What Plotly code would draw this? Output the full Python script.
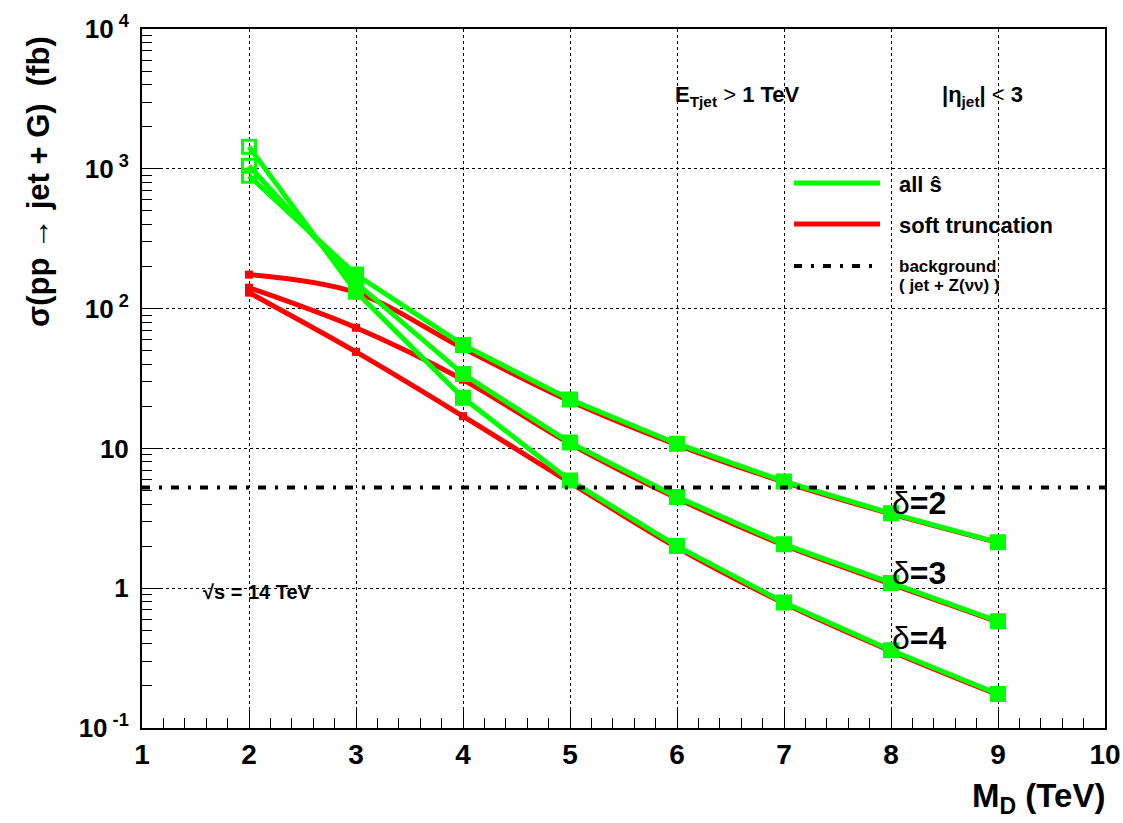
import math
import plotly.graph_objects as go

# ---------------- data ----------------
md = [2, 3, 4, 5, 6, 7, 8, 9]

all_s_d2 = [891, 175, 55, 22.4, 10.8, 5.8, 3.43, 2.13]
all_s_d3 = [1050, 153, 34, 11.0, 4.5, 2.06, 1.09, 0.58]
all_s_d4 = [1436, 132, 23, 5.9, 2.0, 0.79, 0.36, 0.175]

soft_d2 = [175, 130, 52, 21.8, 10.6, 5.75, 3.4, 2.12]
soft_d3 = [141, 73, 31, 10.8, 4.4, 2.03, 1.07, 0.575]
soft_d4 = [130, 49, 17, 5.7, 1.95, 0.78, 0.355, 0.173]

bg_x = [1, 10]
bg_y = [5.26, 5.26]

delta_labels = ["δ=2", "δ=3", "δ=4"]
delta_label_x = 7.99
delta_label_y = [4.05, 1.28, 0.44]

x_ticks = [1, 2, 3, 4, 5, 6, 7, 8, 9, 10]
y_ticks = [0.1, 1, 10, 100, 1000, 10000]
y_tick_text = ["10<sup> -1</sup>", "1", "10", "10<sup> 2</sup>", "10<sup> 3</sup>", "10<sup> 4</sup>"]

GREEN = "#00ff00"
RED = "#ff0000"
FONT = "Liberation Sans, Arial, sans-serif"
NARROW = "Liberation Sans Narrow, Liberation Sans, Arial, sans-serif"

fig = go.Figure()

# soft truncation (red, smooth curves)
for ys in (soft_d2, soft_d3, soft_d4):
    fig.add_trace(go.Scatter(
        x=md, y=ys, mode="lines+markers",
        line=dict(color=RED, width=5, shape="spline", smoothing=1.0),
        marker=dict(symbol="square", size=8, color=RED),
        showlegend=False, hoverinfo="skip"))

# all s-hat (green)
sym = ["square-open"] + ["square"] * 7
for ys in (all_s_d2, all_s_d3, all_s_d4):
    fig.add_trace(go.Scatter(
        x=md, y=ys, mode="lines+markers",
        line=dict(color=GREEN, width=5),
        marker=dict(symbol=sym, size=13, color=GREEN, line=dict(color=GREEN, width=3)),
        showlegend=False, hoverinfo="skip"))

# background
fig.add_trace(go.Scatter(
    x=bg_x, y=bg_y, mode="lines",
    line=dict(color="black", width=4, dash="8px,9px,3px,9px"),
    showlegend=False, hoverinfo="skip"))

# delta labels
for lab, yv in zip(delta_labels, delta_label_y):
    fig.add_annotation(x=delta_label_x, y=math.log10(yv), yref="y", xref="x",
                       text="<span style='font-weight:normal'>δ</span><b>=" + lab[-1] + "</b>",
                       showarrow=False, xanchor="left", yanchor="middle",
                       font=dict(family=FONT, size=32, color="black"))

# plot-area pixel frame
W0, W1 = 142, 1105
H0, H1 = 29, 728


def px(x):
    return (x - W0) / (W1 - W0)


def py(y):
    return (H1 - y) / (H1 - H0)


texts = [
    (673, 96, "<b>E<sub>Tjet</sub></b> &gt; <b>1 TeV</b>", 22),
    (940, 96, "<b>|η<sub>jet</sub>|</b> &lt; <b>3</b>", 22),
    (897, 184, "<b>all ŝ</b>", 22),
    (897, 225, "<b>soft truncation</b>", 22),
    (897, 266, "<b>background</b>", 17),
    (897, 285, "<b>( jet + Z(νν) )</b>", 17),
    (201, 592, "<b>√s = 14 TeV</b>", 20),
]
for x, y, t, s in texts:
    fig.add_annotation(x=px(x), y=py(y), xref="paper", yref="paper", text=t,
                       showarrow=False, xanchor="left", yanchor="middle",
                       font=dict(family=FONT, size=s, color="black"))

# legend samples
fig.add_shape(type="line", xref="paper", yref="paper", x0=px(794), x1=px(880), y0=py(183), y1=py(183),
              line=dict(color=GREEN, width=5))
fig.add_shape(type="line", xref="paper", yref="paper", x0=px(794), x1=px(880), y0=py(224), y1=py(224),
              line=dict(color=RED, width=5))
fig.add_shape(type="line", xref="paper", yref="paper", x0=px(794), x1=px(880), y0=py(266), y1=py(266),
              line=dict(color="black", width=4, dash="8px,9px,3px,9px"))

# axis titles
fig.add_annotation(x=px(38), y=py(182), xref="paper", yref="paper",
                   text="<b>σ(pp → jet + G)  (fb)</b>", textangle=-90,
                   showarrow=False, xanchor="center", yanchor="middle",
                   font=dict(family=FONT, size=31, color="black"))
fig.add_annotation(x=px(1107), y=py(798), xref="paper", yref="paper",
                   text="<b>M<sub>D</sub> (TeV)</b>",
                   showarrow=False, xanchor="right", yanchor="middle",
                   font=dict(family=FONT, size=33, color="black"))

fig.update_layout(
    width=1123, height=823,
    margin=dict(l=W0, r=1123 - W1, t=H0, b=823 - H1),
    paper_bgcolor="white", plot_bgcolor="white",
    font=dict(family=FONT, color="black"),
)
fig.update_xaxes(
    range=[1, 10], tickvals=x_ticks, ticktext=["<b>%d</b>" % v for v in x_ticks],
    ticks="inside", ticklen=18, tickcolor="black", tickwidth=1,
    showline=True, linecolor="black", linewidth=2, mirror=True,
    showgrid=True, gridcolor="black", griddash="dot", gridwidth=1,
    tickfont=dict(family=NARROW, size=28, color="black"),
    ticklabelstandoff=0,
    minor=dict(dtick=0.2, ticks="inside", ticklen=10, tickcolor="black", showgrid=False),
    zeroline=False, automargin=False,
)
fig.update_yaxes(
    type="log", range=[-1, 4], tickvals=y_ticks,
    ticktext=["<b>" + t + "</b>" for t in y_tick_text],
    ticks="inside", ticklen=18, tickcolor="black", tickwidth=1,
    showline=True, linecolor="black", linewidth=2, mirror=True,
    showgrid=True, gridcolor="black", griddash="dot", gridwidth=1,
    tickfont=dict(family=FONT, size=26, color="black"),
    ticklabelstandoff=6,
    minor=dict(dtick="D1", ticks="inside", ticklen=10, tickcolor="black", showgrid=False),
    zeroline=False, automargin=False,
)

fig.write_html("out.html", config={"displayModeBar": False},
               post_script="document.body.style.margin='0';document.body.style.overflow='hidden';")
